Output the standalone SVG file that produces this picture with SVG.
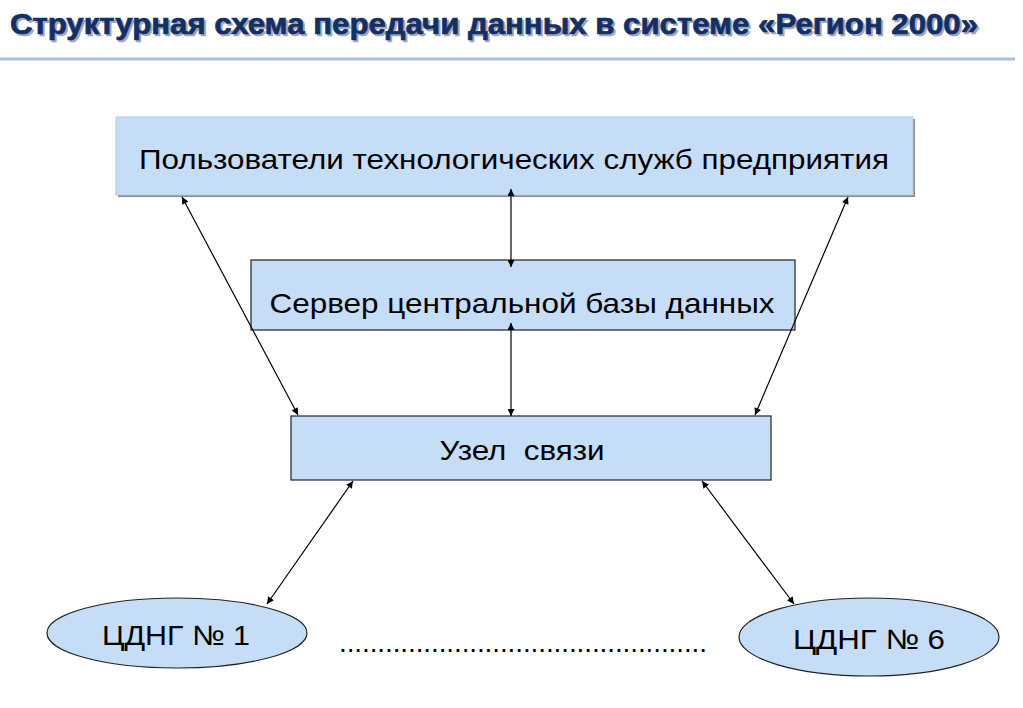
<svg xmlns="http://www.w3.org/2000/svg" width="1023" height="708" viewBox="0 0 1023 708">
<defs>
<marker id="ah" viewBox="0 0 10 10" refX="10" refY="5" markerWidth="8" markerHeight="7" markerUnits="userSpaceOnUse" orient="auto-start-reverse">
<path d="M0,0 L10,5 L0,10 Z" fill="#000"/>
</marker>
<style>
.box{fill:#c6ddf7;stroke:#222;stroke-width:1.2}
.lbl{font-family:"Liberation Sans",Arial,sans-serif;font-size:28px;fill:#000;text-anchor:middle}
.con{stroke:#000;stroke-width:1.2;fill:none;marker-start:url(#ah);marker-end:url(#ah)}
.title{font-family:"Liberation Sans",Arial,sans-serif;font-weight:bold;font-size:30px;stroke-width:0.7}
</style>
</defs>
<rect width="1023" height="708" fill="#fff"/>
<g id="title">
<text class="title" x="12" y="35.5" fill="#a0a6b4" stroke="#a0a6b4" textLength="968" lengthAdjust="spacingAndGlyphs">Структурная схема передачи данных в системе «Регион 2000»</text>
<text class="title" x="10" y="33.5" fill="#132f66" stroke="#132f66" textLength="968" lengthAdjust="spacingAndGlyphs">Структурная схема передачи данных в системе «Регион 2000»</text>
<rect x="0" y="57.5" width="1015" height="3" fill="#a9bff0"/>
</g>
<g id="users">
<rect x="118" y="119" width="797" height="78" fill="#8c8c8c"/>
<rect x="116" y="117" width="797" height="78" fill="#c6ddf7" stroke="#b5c8e0" stroke-width="1"/>
<text class="lbl" x="514" y="169" textLength="750" lengthAdjust="spacingAndGlyphs">Пользователи технологических служб предприятия</text>
</g>
<g id="server">
<rect class="box" x="251" y="260" width="544" height="70"/>
<text class="lbl" x="522" y="313" textLength="505" lengthAdjust="spacingAndGlyphs">Сервер центральной базы данных</text>
</g>
<g id="node">
<rect class="box" x="291" y="416" width="480" height="64" stroke="#3a3a3a"/>
<text class="lbl" x="522" y="460" textLength="165" lengthAdjust="spacingAndGlyphs" xml:space="preserve">Узел  связи</text>
</g>
<g id="cdng1">
<ellipse class="box" cx="177" cy="633" rx="130" ry="35"/>
<text class="lbl" x="176" y="645" textLength="148" lengthAdjust="spacingAndGlyphs">ЦДНГ № 1</text>
</g>
<g id="cdng6">
<ellipse class="box" cx="869" cy="637" rx="130" ry="39"/>
<text class="lbl" x="869" y="649" textLength="152" lengthAdjust="spacingAndGlyphs">ЦДНГ № 6</text>
</g>
<g id="dots">
<text class="lbl" x="339" y="652" style="text-anchor:start" textLength="368" lengthAdjust="spacing">................................................</text>
</g>
<g id="connectors">
<line class="con" x1="511" y1="189" x2="511" y2="267"/>
<line class="con" x1="511" y1="323" x2="511" y2="416"/>
<line class="con" x1="182" y1="197" x2="298" y2="415"/>
<line class="con" x1="848" y1="197" x2="755" y2="415"/>
<line class="con" x1="353" y1="481" x2="267" y2="604"/>
<line class="con" x1="702" y1="481" x2="794" y2="604"/>
</g>
</svg>
